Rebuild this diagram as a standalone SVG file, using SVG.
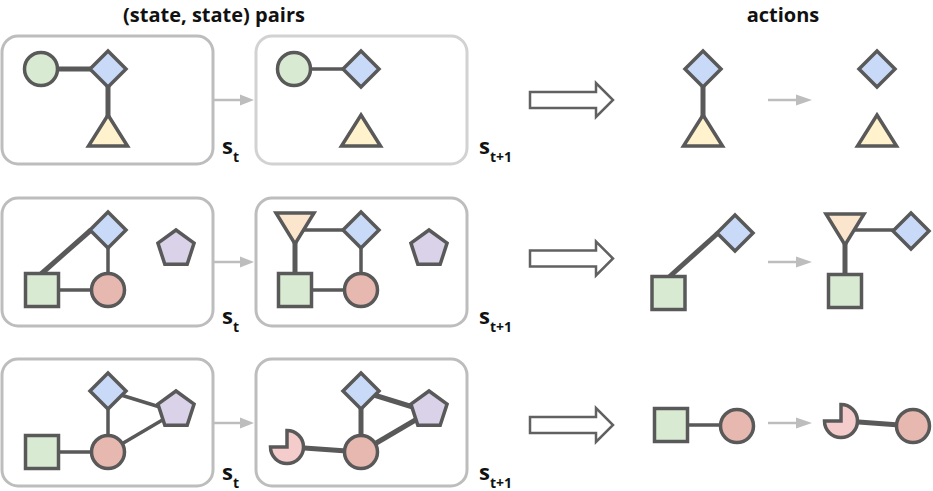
<svg xmlns="http://www.w3.org/2000/svg" xmlns:xlink="http://www.w3.org/1999/xlink" width="933" height="491" viewBox="0 0 933 491">
<defs>
<style>
.box{fill:#fff;stroke:#bdbdbd;stroke-width:3}
.box.light{stroke:#d2d2d2}
.n{stroke:#595959;stroke-width:3.5;stroke-linejoin:miter}
.e{stroke:#595959;stroke-width:3.5;fill:none}
.e.t{stroke-width:5}
.g{stroke:#bdbdbd;stroke-width:2.5;fill:none}
.gh{fill:#bdbdbd}
.big{fill:#fff;stroke:#616161;stroke-width:2.5}
.green{fill:#d9ead3}
.blue{fill:#c9daf8}
.yellow{fill:#fff2cc}
.red{fill:#e6b8af}
.purple{fill:#d9d2e9}
.orange{fill:#fce5cd}
.pink{fill:#f4cccc}
text{font-family:"Open Sans","DejaVu Sans",sans-serif;font-weight:700;fill:#111}
.title{font-size:20px;text-anchor:middle}
.s{font-size:22px}
.sub{font-size:14px}
</style>
<circle id="circ" r="16.5"/>
<polygon id="dia" points="0,-18 18,0 0,18 -18,0"/>
<polygon id="tri" points="0,0 19.5,31 -19.5,31"/>
<polygon id="itri" points="-19,0 19,0 0,31"/>
<rect id="sq" x="-16.5" y="-16.5" width="33" height="33"/>
<polygon id="pent" points="0,-19 18.07,-5.87 11.17,15.37 -11.17,15.37 -18.07,-5.87"/>
<path id="pac" d="M-16.5,0 A16.5,16.5 0 1 0 0,-16.5 L0,0 Z"/>
</defs>

<text class="title" x="214" y="21.5">(state, state) pairs</text>
<text class="title" x="783" y="21.5">actions</text>

<g id="boxes">
<rect class="box" x="2" y="36" width="211" height="128" rx="16"/>
<rect class="box light" x="256" y="36" width="211" height="128" rx="16"/>
<rect class="box" x="2" y="198" width="211" height="128" rx="16"/>
<rect class="box" x="256" y="198" width="211" height="128" rx="16"/>
<rect class="box" x="2" y="359" width="211" height="127" rx="16"/>
<rect class="box" x="256" y="359" width="211" height="127" rx="16"/>
</g>

<g id="connectors">
<line class="e t" x1="41" y1="69" x2="108" y2="69"/>
<line class="e t" x1="108" y1="69" x2="108" y2="117"/>
<line class="e" x1="294" y1="69" x2="361" y2="69"/>
<line class="e t" x1="703" y1="69" x2="703" y2="117"/>
<line class="e t" x1="41" y1="274" x2="91" y2="230"/>
<line class="e" x1="42" y1="290" x2="108" y2="290"/>
<line class="e" x1="108" y1="230" x2="108" y2="290"/>
<line class="e" x1="295" y1="230" x2="361" y2="230"/>
<line class="e t" x1="295" y1="240" x2="295" y2="280"/>
<line class="e" x1="295" y1="290" x2="361" y2="290"/>
<line class="e" x1="361" y1="230" x2="361" y2="290"/>
<line class="e t" x1="668" y1="278" x2="718" y2="233"/>
<line class="e" x1="845" y1="230" x2="911" y2="230"/>
<line class="e t" x1="845" y1="240" x2="845" y2="280"/>
<line class="e" x1="42" y1="452" x2="108" y2="452"/>
<line class="e" x1="108" y1="391" x2="108" y2="452"/>
<line class="e" x1="108" y1="391" x2="176" y2="412"/>
<line class="e" x1="108" y1="452" x2="176" y2="412"/>
<line class="e t" x1="290" y1="447" x2="361" y2="452"/>
<line class="e t" x1="361" y1="391" x2="361" y2="452"/>
<line class="e t" x1="361" y1="391" x2="429" y2="412"/>
<line class="e t" x1="361" y1="452" x2="429" y2="412"/>
<line class="e" x1="671" y1="425" x2="737" y2="425"/>
<line class="e t" x1="845" y1="421" x2="913" y2="426"/>
<line class="g" x1="214" y1="100" x2="242" y2="100"/>
<polygon class="gh" points="240,94.5 254,100 240,105.5"/>
<line class="g" x1="214" y1="262" x2="242" y2="262"/>
<polygon class="gh" points="240,256.5 254,262 240,267.5"/>
<line class="g" x1="214" y1="423" x2="242" y2="423"/>
<polygon class="gh" points="240,417.5 254,423 240,428.5"/>
<line class="g" x1="768" y1="100" x2="798" y2="100"/>
<polygon class="gh" points="796,94.5 812,100 796,105.5"/>
<line class="g" x1="768" y1="262" x2="798" y2="262"/>
<polygon class="gh" points="796,256.5 812,262 796,267.5"/>
<line class="g" x1="768" y1="423" x2="798" y2="423"/>
<polygon class="gh" points="796,417.5 812,423 796,428.5"/>
<polygon class="big" points="530,92 596,92 596,83 613,100 596,117 596,108 530,108"/>
<polygon class="big" transform="translate(0,158.5)" points="530,92 596,92 596,83 613,100 596,117 596,108 530,108"/>
<polygon class="big" transform="translate(0,325)" points="530,92 596,92 596,83 613,100 596,117 596,108 530,108"/>
</g>

<g id="r1a-circle"><use xlink:href="#circ" class="n green" x="41" y="69"/></g>
<g id="r1a-diamond"><use xlink:href="#dia" class="n blue" x="108" y="69"/></g>
<g id="r1a-triangle"><use xlink:href="#tri" class="n yellow" x="108" y="115"/></g>
<g id="r1b-circle"><use xlink:href="#circ" class="n green" x="294" y="69"/></g>
<g id="r1b-diamond"><use xlink:href="#dia" class="n blue" x="361" y="69"/></g>
<g id="r1b-triangle"><use xlink:href="#tri" class="n yellow" x="361" y="115"/></g>
<g id="r1c-diamond"><use xlink:href="#dia" class="n blue" x="703" y="69"/></g>
<g id="r1c-triangle"><use xlink:href="#tri" class="n yellow" x="703" y="115"/></g>
<g id="r1d-diamond"><use xlink:href="#dia" class="n blue" x="877" y="69"/></g>
<g id="r1d-triangle"><use xlink:href="#tri" class="n yellow" x="877" y="115"/></g>

<g id="r2a-diamond"><use xlink:href="#dia" class="n blue" x="108" y="230"/></g>
<g id="r2a-square"><use xlink:href="#sq" class="n green" x="42" y="290"/></g>
<g id="r2a-circle"><use xlink:href="#circ" class="n red" x="108" y="290"/></g>
<g id="r2a-pentagon"><use xlink:href="#pent" class="n purple" x="176" y="249"/></g>
<g id="r2b-itriangle"><use xlink:href="#itri" class="n orange" x="295" y="213"/></g>
<g id="r2b-diamond"><use xlink:href="#dia" class="n blue" x="361" y="230"/></g>
<g id="r2b-square"><use xlink:href="#sq" class="n green" x="295" y="290"/></g>
<g id="r2b-circle"><use xlink:href="#circ" class="n red" x="361" y="290"/></g>
<g id="r2b-pentagon"><use xlink:href="#pent" class="n purple" x="429" y="249"/></g>
<g id="r2c-square"><use xlink:href="#sq" class="n green" x="668.5" y="293"/></g>
<g id="r2c-diamond"><use xlink:href="#dia" class="n blue" x="735" y="233"/></g>
<g id="r2d-itriangle"><use xlink:href="#itri" class="n orange" x="845" y="214"/></g>
<g id="r2d-diamond"><use xlink:href="#dia" class="n blue" x="911" y="231"/></g>
<g id="r2d-square"><use xlink:href="#sq" class="n green" x="845" y="291"/></g>

<g id="r3a-diamond"><use xlink:href="#dia" class="n blue" x="108" y="391"/></g>
<g id="r3a-pentagon"><use xlink:href="#pent" class="n purple" x="176" y="410"/></g>
<g id="r3a-square"><use xlink:href="#sq" class="n green" x="42" y="452"/></g>
<g id="r3a-circle"><use xlink:href="#circ" class="n red" x="108" y="452"/></g>
<g id="r3b-diamond"><use xlink:href="#dia" class="n blue" x="361" y="391"/></g>
<g id="r3b-pentagon"><use xlink:href="#pent" class="n purple" x="429" y="410"/></g>
<g id="r3b-circle"><use xlink:href="#circ" class="n red" x="361" y="452"/></g>
<g id="r3b-pacman"><use xlink:href="#pac" class="n pink" x="287" y="447"/></g>
<g id="r3c-square"><use xlink:href="#sq" class="n green" x="671" y="425"/></g>
<g id="r3c-circle"><use xlink:href="#circ" class="n red" x="737" y="426"/></g>
<g id="r3d-pacman"><use xlink:href="#pac" class="n pink" x="841" y="421"/></g>
<g id="r3d-circle"><use xlink:href="#circ" class="n red" x="913" y="426"/></g>

<g id="labels">
<text class="s" x="222" y="154">s<tspan class="sub" dy="8">t</tspan></text>
<text class="s" x="479" y="154">s<tspan class="sub" dy="8">t+1</tspan></text>
<text class="s" x="222" y="324">s<tspan class="sub" dy="8">t</tspan></text>
<text class="s" x="479" y="324">s<tspan class="sub" dy="8">t+1</tspan></text>
<text class="s" x="222" y="480">s<tspan class="sub" dy="8">t</tspan></text>
<text class="s" x="479" y="480">s<tspan class="sub" dy="8">t+1</tspan></text>
</g>
</svg>
